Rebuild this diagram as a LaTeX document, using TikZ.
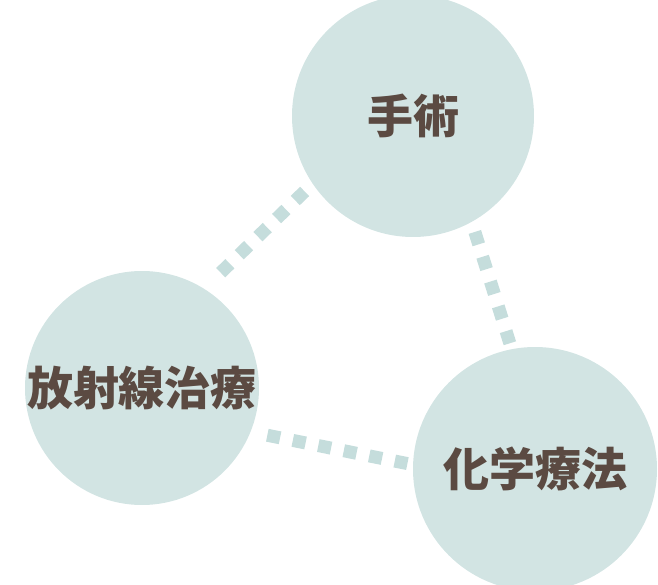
\documentclass[tikz,border=0pt]{standalone}
\usepackage{fontspec}
\usepackage{tikz}
\newfontfamily\jpfont{Noto Sans CJK JP}
\usetikzlibrary{positioning}
\definecolor{circlefill}{HTML}{D2E4E3}
\definecolor{dotfill}{HTML}{C5DDDC}
\definecolor{labeltext}{HTML}{5B4A42}
\tikzset{treat/.style={circle,fill=circlefill,inner sep=0pt,outer sep=0pt,text=labeltext,font=\jpfont\bfseries\fontsize{34.5pt}{40pt}\selectfont},
    dots/.style={dotfill,line width=9.75pt,dash pattern=on 9.75pt off 9.75pt}}
\begin{document}
\begin{tikzpicture}[x=0.75pt,y=-0.75pt]
                \useasboundingbox (0,0) rectangle (658,585);
                \node[treat,minimum size=181.5pt] (surgery) at (413,116) {手術};
                \node[treat,minimum size=175.5pt] (radiation) at (142,388) {放射線治療};
                \node[treat,minimum size=183pt] (chemo) at (535,469) {化学療法};
                % dotted links
                \draw[dots,shorten <=8.4pt,shorten >=17.4pt] (surgery.214) -- (radiation.58);
                \draw[dots,shorten <=7.95pt,shorten >=4.7pt] (surgery.299) -- (chemo.101);
                \draw[dots,shorten <=12.9pt,shorten >=4.35pt] (radiation.338) -- (chemo.178);
            \end{tikzpicture}
\end{document}
